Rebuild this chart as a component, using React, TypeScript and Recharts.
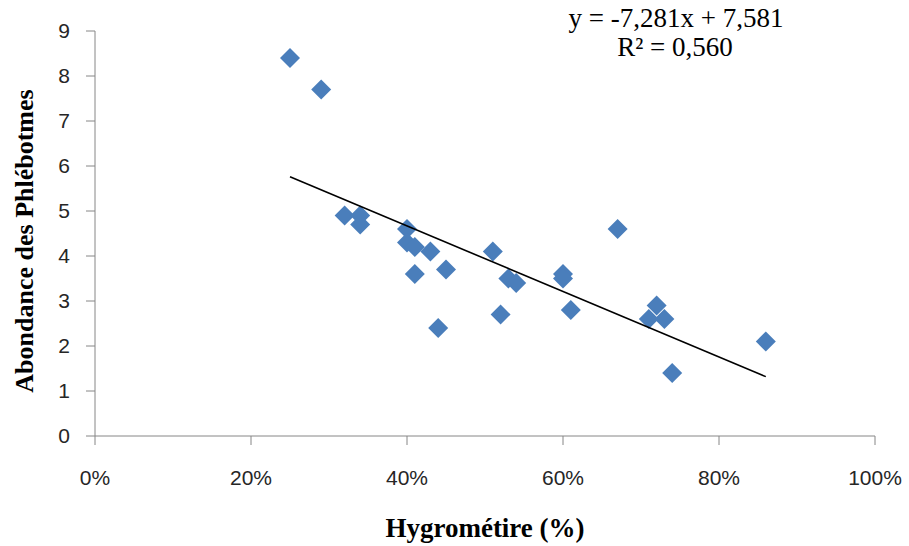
import React from 'react';
import { ScatterChart, Scatter, XAxis, YAxis, Customized } from 'recharts';

// Hygrometry (fraction) vs sandfly abundance
const humidity = [
  0.25, 0.29, 0.32, 0.34, 0.34, 0.40, 0.40, 0.41, 0.43, 0.41, 0.45, 0.44, 0.51,
  0.53, 0.54, 0.52, 0.60, 0.60, 0.61, 0.67, 0.72, 0.71, 0.73, 0.74, 0.86,
];
const abundance = [
  8.4, 7.7, 4.9, 4.9, 4.7, 4.6, 4.3, 4.2, 4.1, 3.6, 3.7, 2.4, 4.1,
  3.5, 3.4, 2.7, 3.6, 3.5, 2.8, 4.6, 2.9, 2.6, 2.6, 1.4, 2.1,
];
const xTicks = [0, 0.2, 0.4, 0.6, 0.8, 1];
const yTicks = [0, 1, 2, 3, 4, 5, 6, 7, 8, 9];

// Linear trend: y = -7,281x + 7,581
const slope = -7.281;
const intercept = 7.581;
const trendRange = [Math.min(...humidity), Math.max(...humidity)];

const points = humidity.map((x, i) => ({ x, y: abundance[i] }));
const trend = trendRange.map((x) => ({ x, y: slope * x + intercept }));

const tickStyle = { fontFamily: 'Liberation Sans, Arial, sans-serif', fontSize: 21, fill: '#262626' };

const Diamond = (props: any) => {
  const { cx, cy } = props;
  const r = 10;
  return (
    <path
      d={`M${cx},${cy - r} L${cx + r},${cy} L${cx},${cy + r} L${cx - r},${cy} Z`}
      fill="#4a7ebb"
    />
  );
};

const Texts = () => (
  <g style={{ fontFamily: 'Liberation Serif, Times New Roman, serif' }}>
    <text
      x={24}
      y={241}
      transform="rotate(-90 24 241)"
      textAnchor="middle"
      dominantBaseline="central"
      fontWeight="bold"
      fontSize={26}
      fill="#000"
    >
      Abondance des Phlébotmes
    </text>
    <text x={485} y={537} textAnchor="middle" fontWeight="bold" fontSize={27} fill="#000">
      Hygrométire (%)
    </text>
    <text x={676} y={27} textAnchor="middle" fontSize={27} fill="#000">
      y = -7,281x + 7,581
    </text>
    <text x={675} y={56} textAnchor="middle" fontSize={27} fill="#000">
      R² = 0,560
    </text>
  </g>
);

export default function App() {
  return (
    <div style={{ position: 'absolute', left: 0, top: 0, width: 909, height: 546, background: '#fff' }}>
      <ScatterChart width={909} height={546} margin={{ top: 31, right: 34, bottom: 70, left: 0 }}>
        <XAxis
          type="number"
          dataKey="x"
          domain={[0, 1]}
          ticks={xTicks}
          tickFormatter={(v: number) => `${Math.round(v * 100)}%`}
          height={40}
          tickSize={9}
          tickMargin={25}
          stroke="#868686"
          tick={tickStyle}
          interval={0}
        />
        <YAxis
          type="number"
          dataKey="y"
          domain={[0, 9]}
          ticks={yTicks}
          width={95}
          tickSize={9}
          tickMargin={16}
          stroke="#868686"
          tick={tickStyle}
          interval={0}
        />
        <Scatter data={points} shape={<Diamond />} isAnimationActive={false} />
        <Scatter
          data={trend}
          line={{ stroke: '#000', strokeWidth: 1.6 }}
          shape={() => <g />}
          isAnimationActive={false}
        />
        <Customized component={Texts} />
      </ScatterChart>
    </div>
  );
}
